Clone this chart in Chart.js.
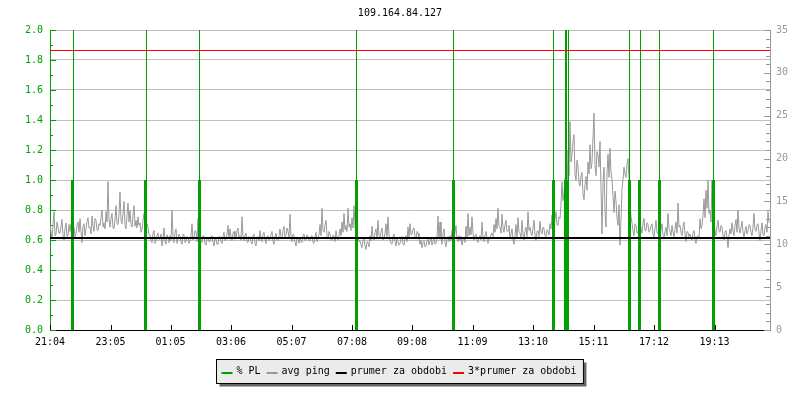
<!DOCTYPE html>
<html>
<head>
<meta charset="utf-8">
<script src="https://cdn.jsdelivr.net/npm/chart.js@4/dist/chart.umd.min.js"></script>
<style>
html,body{margin:0;padding:0;background:#fff;}
canvas{display:block;}
</style>
</head>
<body>
<canvas id="c" width="800" height="400"></canvas>
<script>
// ---------- DATA ----------
const chartTitle = "109.164.84.127";
const tickLabels = ["21:04","23:05","01:05","03:06","05:07","07:08","09:08","11:09","13:10","15:11","17:12","19:13"];
const periodMinutes = 1440;          // 24 h window starting at 21:04
const pingStepMinutes = 2;           // sample interval of the ping series
// avg ping (ms), one sample every 2 minutes from 21:04
const avgPing = [
12.5,11.4,10.8,12.2,13.8,11.0,11.2,12.6,12.0,11.3, 11.3,12.0,12.9,11.1,10.5,11.8,12.5,10.9,11.0,12.3,
11.5,12.4,10.8,11.6,12.0,10.9,11.2,12.2,12.6,11.4, 13.0,11.5,10.2,12.1,12.4,11.0,11.8,12.7,13.1,11.9,
12.0,11.2,13.3,12.1,11.5,13.0,12.8,11.7,11.6,12.4, 12.2,13.1,14.0,12.0,12.5,11.8,13.8,12.6,17.3,12.9,
12.0,13.0,13.6,11.9,11.8,12.9,14.5,12.4,12.3,13.5, 16.1,12.8,12.4,13.6,15.0,12.2,11.8,13.4,14.8,12.6,
13.9,12.3,12.0,13.4,14.5,12.1,12.8,11.9,13.2,12.2, 12.5,11.4,11.7,12.8,13.6,11.9,11.0,12.4,12.0,11.2,
11.0,10.5,10.2,11.3,11.6,10.1,10.4,11.0,11.3,10.6, 10.6,11.2,9.8,10.5,11.9,10.3,10.0,11.1,10.8,10.2,
11.0,10.4,14.0,10.9,10.2,11.4,11.8,10.1,10.6,11.2, 10.9,10.3,10.0,11.2,11.1,10.2,10.3,10.9,10.8,10.1,
10.4,11.0,12.4,10.5,10.8,11.6,11.5,10.3,13.0,11.1, 11.2,10.4,10.2,11.0,10.9,10.1,9.9,10.8,10.7,10.3,
10.3,10.9,11.0,10.2,9.8,10.7,10.6,10.0,10.0,10.9, 10.9,10.3,10.1,11.0,11.4,10.4,10.5,11.2,12.2,10.6,
11.8,10.9,10.4,11.3,11.5,10.6,10.8,11.6,11.9,10.8, 11.0,10.5,13.2,10.9,10.4,11.1,11.3,10.3,10.2,10.9,
10.8,10.3,10.0,11.0,11.2,10.1,9.8,10.7,10.9,10.4, 11.6,10.6,10.3,11.2,11.4,10.5,10.1,10.9,11.0,10.4,
10.6,11.1,11.5,10.3,10.0,10.9,11.3,10.5,10.4,11.0, 11.8,10.9,10.7,11.6,12.1,10.8,11.0,11.9,11.5,10.8,
13.5,10.9,10.3,11.2,11.0,10.2,9.8,10.8,10.6,10.1, 10.8,10.3,10.2,11.0,11.2,10.4,10.5,11.1,10.9,10.4,
10.4,10.9,11.0,10.2,10.1,10.8,11.4,10.3,10.6,11.1, 12.3,11.0,14.2,11.6,11.4,12.2,12.8,11.0,10.6,11.5,
11.2,10.5,10.4,11.1,10.9,10.3,11.6,10.8,10.5,11.0, 11.8,11.0,12.6,11.4,13.6,11.7,12.2,11.5,14.2,12.0,
12.4,11.6,13.1,11.9,14.5,12.2,11.2,10.6,10.8,10.3, 10.4,9.9,9.6,10.5,10.8,9.8,9.4,10.3,10.2,9.7,
11.0,10.4,12.1,10.8,10.5,11.4,11.8,10.6,12.8,11.0, 10.8,11.4,11.9,10.5,10.6,11.3,12.4,10.9,13.2,11.1,
10.5,10.1,10.0,10.9,11.2,10.3,9.8,10.6,10.3,9.9, 10.1,10.6,10.9,10.0,9.9,10.7,11.0,10.3,12.0,10.8,
12.4,11.1,11.2,11.8,11.9,10.8,10.6,11.5,11.3,10.7, 10.0,10.5,9.6,10.2,10.4,9.7,9.8,10.4,10.6,9.9,
10.4,10.8,9.9,10.3,10.8,10.0,10.1,10.7,13.3,10.6, 12.6,10.9,10.0,11.2,11.8,10.2,9.7,10.6,10.9,10.3,
11.0,10.4,11.6,10.9,10.5,11.4,12.2,10.6,10.3,11.0, 10.4,10.9,9.9,10.6,10.8,10.2,12.1,10.8,13.6,11.0,
12.0,11.1,13.2,11.3,10.5,11.0,11.2,10.4,10.2,10.8, 11.0,10.5,12.6,10.9,10.3,11.1,11.5,10.6,10.1,10.8,
10.6,11.2,11.3,10.9,12.3,11.4,13.0,11.8,14.2,12.1, 12.0,11.3,13.5,11.9,11.4,12.3,12.8,11.5,11.6,12.2,
10.6,11.2,11.8,10.5,10.0,11.0,12.3,10.8,13.1,11.4, 11.3,10.8,12.8,11.2,10.5,11.5,12.0,10.9,13.8,11.6,
12.0,11.3,11.0,11.9,12.8,11.1,10.4,11.5,11.6,10.9, 12.7,11.4,11.2,12.0,11.8,11.0,10.9,11.7,11.5,11.1,
12.4,11.8,13.4,12.1,11.6,12.9,13.8,12.3,12.2,13.2, 13.0,14.6,17.3,15.1,16.0,17.6,18.5,16.2,21.0,18.0,
24.3,19.6,20.5,22.0,22.8,18.2,17.5,19.8,19.0,17.2, 16.8,18.0,18.4,15.9,15.2,17.0,17.9,16.3,19.6,18.2,
21.6,18.8,19.5,22.4,25.3,19.2,18.0,20.8,20.4,19.0, 22.0,16.5,11.2,17.2,19.0,13.8,12.0,18.4,20.5,17.8,
21.2,18.4,17.5,15.6,13.7,16.2,15.0,13.1,12.2,14.6, 9.9,12.8,16.5,17.6,19.0,18.2,17.8,19.3,20.0,17.5,
15.0,13.2,12.5,11.6,11.0,12.4,12.2,11.3,11.4,12.0, 12.7,11.8,11.3,12.4,13.0,11.6,11.6,12.5,12.3,11.4,
11.6,12.1,12.4,11.2,10.8,11.9,12.8,11.4,11.2,12.0, 11.0,11.7,12.4,11.1,10.6,11.5,12.0,11.0,13.6,11.8,
11.5,11.0,12.2,11.4,10.9,11.8,12.6,11.3,14.8,12.0, 12.2,11.4,11.0,12.1,12.6,11.2,10.3,11.5,11.4,10.9,
11.2,10.7,10.5,11.3,11.6,10.6,10.1,10.9,11.0,10.6, 13.0,11.8,12.2,13.4,15.3,13.1,16.3,14.2,17.5,13.6,
14.0,12.6,17.5,13.2,12.5,11.6,11.0,12.1,12.8,11.5, 11.4,12.2,12.0,11.0,10.5,11.4,11.6,10.7,9.6,11.0,
11.8,11.2,12.5,11.6,11.0,12.2,12.9,11.4,14.0,11.9, 11.3,12.0,12.7,11.4,10.8,11.6,12.1,11.2,11.6,12.3,
12.2,11.4,11.0,12.0,13.6,11.7,11.5,12.2,12.4,11.3, 10.4,11.6,12.5,11.1,11.0,12.0,12.3,11.4,13.8,12.5
];
// packet loss events (minutes after 21:04) and their values on the left axis
const plTimes  = [45,191,299,613,807,1007,1031,1035,1159,1179,1219,1327];
const plValues = [1,1,1,1,1,1,1,1,1,1,1,1];
const plPeakTimes  = [47,193,299,613,807,1007,1031,1033,1037,1159,1181,1219,1327];
const plPeakValues = [2,2,2,2,2,2,2,2,2,2,2,2,2];
const avgPeriod = 10.73;     // prumer za obdobi (ms)
const avgPeriod3 = 32.61;    // 3*prumer za obdobi (ms)
const leftMax = 2.0, leftStep = 0.2;
const rightMax = 35, rightStep = 5;

// ---------- STYLE ----------
const GREEN = '#00a000', GRAY = '#999999', RED = '#ff0000', BLACK = '#000000';
const FONT = '"DejaVu Sans Mono", monospace';

function toMinutes(lbl){ const [h,m] = lbl.split(':').map(Number); return h*60+m; }
const baseMin = toMinutes(tickLabels[0]);
const tickMinutes = tickLabels.map(l => { let d = toMinutes(l) - baseMin; if (d < 0) d += 1440; return d; });

function spikes(times, values){
  const pts = [];
  times.forEach((t,i) => { pts.push({x:t,y:0},{x:t,y:values[i]},{x:t,y:null}); });
  return pts;
}
const pingPts = avgPing.map((v,i) => ({x:i*pingStepMinutes, y:v}));

const axisTicks = {
  id:'axisTicks',
  afterDatasetsDraw(chart){
    const {ctx, chartArea:a, scales} = chart;
    const y = scales.y, y2 = scales.y2, x = scales.x;
    ctx.save(); ctx.lineWidth = 1;
    ctx.strokeStyle = GREEN;
    const nl = Math.round(leftMax/ (leftStep/2));
    for (let k=0;k<=nl;k++){
      const py = Math.round(y.getPixelForValue(k*leftStep/2))+0.5;
      const len = (k%2===0)?6:3;
      ctx.beginPath(); ctx.moveTo(a.left, py); ctx.lineTo(a.left+len, py); ctx.stroke();
    }
    ctx.strokeStyle = GRAY;
    for (let k=0;k<=rightMax;k++){
      const py = Math.round(y2.getPixelForValue(k))+0.5;
      const len = (k%rightStep===0)?6:4;
      ctx.beginPath(); ctx.moveTo(a.right, py); ctx.lineTo(a.right-len, py); ctx.stroke();
    }
    ctx.strokeStyle = BLACK;
    tickMinutes.forEach(m => {
      const px = Math.round(x.getPixelForValue(m))+0.5;
      ctx.beginPath(); ctx.moveTo(px, a.bottom); ctx.lineTo(px, a.bottom-5); ctx.stroke();
    });
    ctx.restore();
  }
};

const boxLegend = {
  id:'boxLegend',
  afterDraw(chart){
    const ctx = chart.ctx;
    const items = chart.data.datasets.filter(d => d.legendIndex !== undefined)
      .sort((p,q) => p.legendIndex - q.legendIndex);
    ctx.save();
    ctx.font = '10px ' + FONT;
    const lineW = 11, gap1 = 4, gap2 = 6, padL = 5, padR = 7;
    let w = padL + padR;
    items.forEach((it,i) => { w += lineW + gap1 + ctx.measureText(it.label).width + (i<items.length-1?gap2:0); });
    const cx = 399, top = 359.5, h = 24;
    const left = Math.round(cx - w/2) + 0.5;
    ctx.fillStyle = '#666';
    ctx.fillRect(left+3, top+3, w, h);
    ctx.fillStyle = '#ebebeb';
    ctx.fillRect(left, top, w, h);
    ctx.strokeStyle = '#000'; ctx.lineWidth = 1;
    ctx.strokeRect(left, top, w, h);
    let px = left + padL;
    const cy = top + 12.5;
    ctx.textBaseline = 'middle';
    items.forEach(it => {
      ctx.strokeStyle = it.borderColor; ctx.lineWidth = 2;
      ctx.beginPath(); ctx.moveTo(px, cy+1); ctx.lineTo(px+lineW, cy+1); ctx.stroke();
      px += lineW + gap1;
      ctx.fillStyle = '#000';
      ctx.fillText(it.label, px, cy-1);
      px += ctx.measureText(it.label).width + gap2;
    });
    ctx.restore();
  }
};

new Chart(document.getElementById('c'), {
  type:'line',
  data:{
    datasets:[
      { label:'3*prumer za obdobi', legendIndex:3, data:[{x:0,y:avgPeriod3},{x:periodMinutes,y:avgPeriod3}],
        yAxisID:'y2', borderColor:RED, borderWidth:1, pointRadius:0, order:0 },
      { label:'prumer za obdobi', legendIndex:2, data:[{x:0,y:avgPeriod},{x:periodMinutes,y:avgPeriod}],
        yAxisID:'y2', borderColor:BLACK, borderWidth:2, pointRadius:0, order:1 },
      { label:'% PL', legendIndex:0, data:spikes(plTimes, plValues), yAxisID:'y',
        borderColor:GREEN, borderWidth:3, pointRadius:0, spanGaps:false, order:2 },
      { label:'% PL peak', data:spikes(plPeakTimes, plPeakValues), yAxisID:'y',
        borderColor:GREEN, borderWidth:1, pointRadius:0, spanGaps:false, order:3 },
      { label:'avg ping', legendIndex:1, data:pingPts, yAxisID:'y2',
        borderColor:GRAY, borderWidth:1, pointRadius:0, tension:0, order:4 }
    ]
  },
  options:{
    responsive:false, animation:false, devicePixelRatio:1,
    layout:{padding:0},
    plugins:{
      legend:{display:false}, tooltip:{enabled:false},
      title:{display:true, text:chartTitle, color:'#000', font:{family:FONT, size:10, weight:'normal', lineHeight:1.2}, padding:{top:7,bottom:11}}
    },
    scales:{
      x:{ type:'linear', min:0, max:periodMinutes, position:'bottom',
          afterBuildTicks(s){ s.ticks = tickMinutes.map(v => ({value:v})); },
          afterFit(s){ s.height = 70; },
          ticks:{ autoSkip:false, maxRotation:0, padding:6, color:'#000', font:{family:FONT,size:10},
                  callback(v){ const i = tickMinutes.indexOf(v); return i>=0 ? tickLabels[i] : ''; } },
          grid:{ drawOnChartArea:false, drawTicks:false },
          border:{ color:BLACK, width:1 } },
      y:{ min:0, max:leftMax, position:'left',
          afterFit(s){ s.width = 50; },
          ticks:{ stepSize:leftStep, padding:7, color:GREEN, font:{family:FONT,size:10},
                  callback(v){ return Number(v).toFixed(1); } },
          grid:{ color:'#c0c0c0', drawTicks:false },
          border:{ color:GREEN, width:1 } },
      y2:{ min:0, max:rightMax, position:'right',
          afterFit(s){ s.width = 30; },
          ticks:{ stepSize:rightStep, padding:6, color:GRAY, font:{family:FONT,size:10} },
          grid:{ drawOnChartArea:false, drawTicks:false },
          border:{ color:GRAY, width:1 } }
    }
  },
  plugins:[axisTicks, boxLegend]
});
</script>
</body>
</html>
